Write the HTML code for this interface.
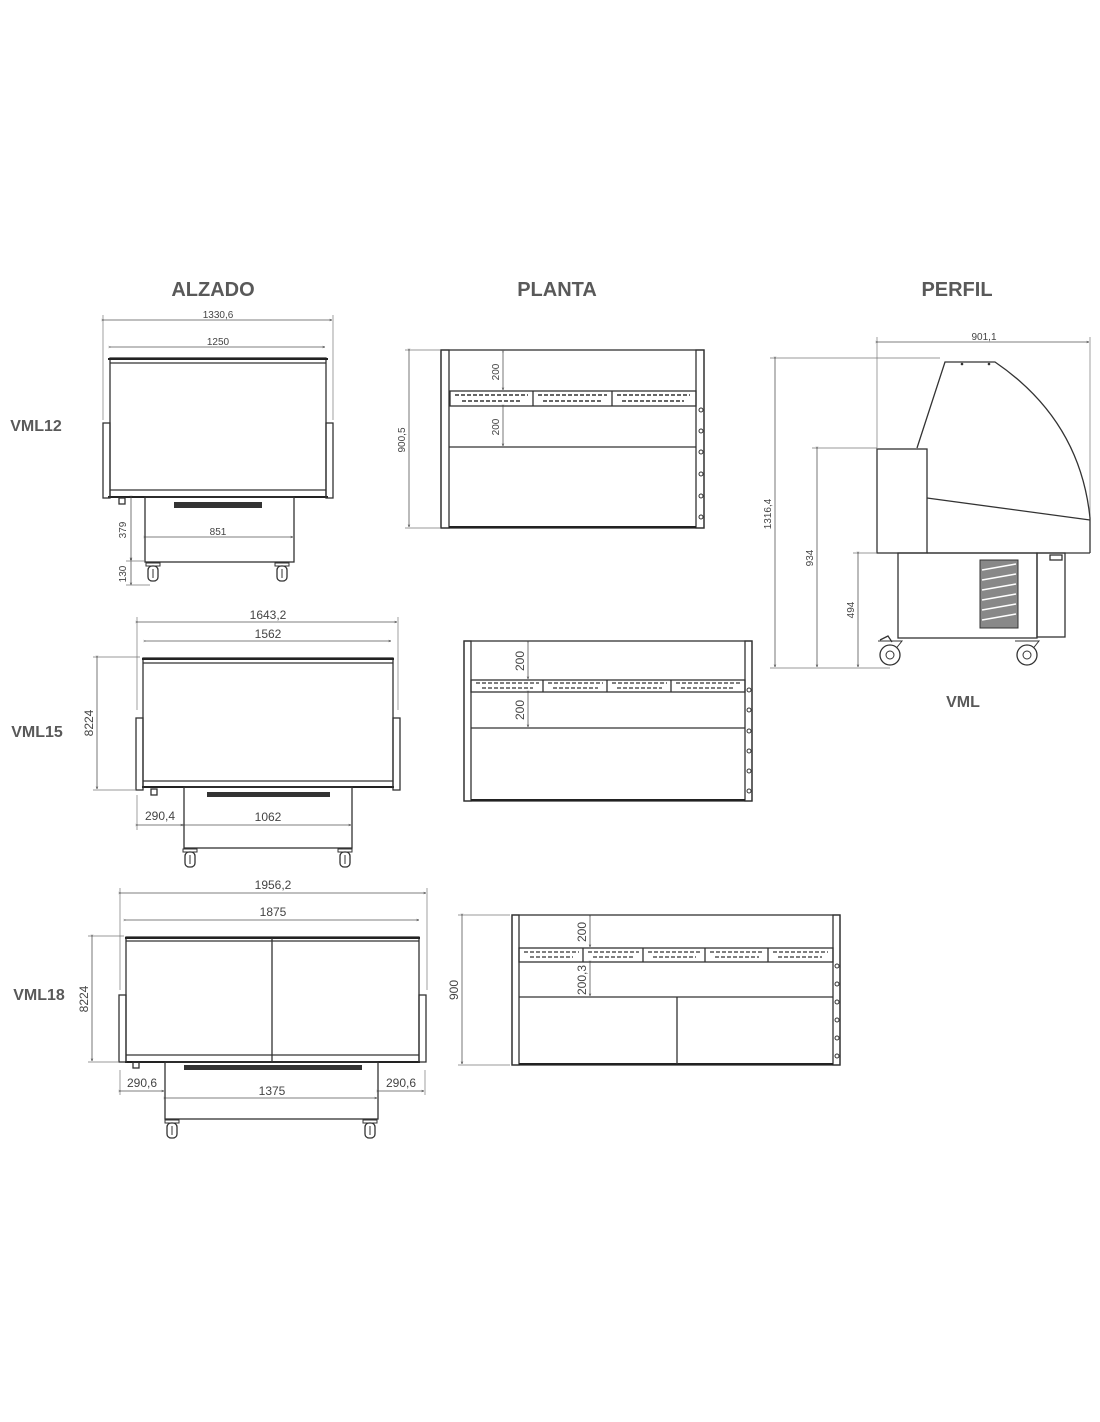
<!DOCTYPE html>
<html><head><meta charset="utf-8"><style>
html,body{margin:0;padding:0;background:#fff;}
svg{display:block;font-family:"Liberation Sans",sans-serif;}
.t{font-size:20px;font-weight:bold;fill:#595959;text-anchor:middle;}
.m{font-size:16px;font-weight:bold;fill:#595959;text-anchor:middle;}
.d{font-size:10px;fill:#444;text-anchor:middle;}
.s{fill:none;stroke:#333;stroke-width:1.3;}
.k{fill:none;stroke:#222;stroke-width:2;}
.dl{fill:none;stroke:#555;stroke-width:0.8;marker-start:url(#a);marker-end:url(#a);}
.el{stroke:#777;stroke-width:0.7;}
.v{fill:#333;}
</style></head><body>
<svg width="1100" height="1422" viewBox="0 0 1100 1422">
<defs>
<marker id="a" viewBox="0 0 10 10" refX="5" refY="5" markerWidth="6" markerHeight="6" orient="auto"><path d="M0,3 L5,5 L0,7" fill="none" stroke="#444"/></marker>
<g id="w"><rect x="-7" y="0" width="14" height="3" fill="#fff" stroke="#333"/><rect x="-5" y="3" width="10" height="15" rx="4" fill="#fff" stroke="#333" stroke-width="1.3"/><line x1="0" y1="6" x2="0" y2="15" stroke="#333"/></g>
<g id="bw"><path d="M-12,-6 L12,-6 L4,4" fill="none" stroke="#333"/><circle cx="0" cy="8" r="10" fill="#fff" stroke="#333" stroke-width="1.3"/><circle cx="0" cy="8" r="4" fill="none" stroke="#333"/></g>
</defs>

<text class="t" x="213" y="296">ALZADO</text>
<text class="t" x="557" y="296">PLANTA</text>
<text class="t" x="957" y="296">PERFIL</text>
<text class="m" x="36" y="431">VML12</text>
<text class="m" x="37" y="737">VML15</text>
<text class="m" x="39" y="1000">VML18</text>
<text class="m" x="963" y="707">VML</text>

<!-- ALZADO VML12 -->
<line class="el" x1="103" y1="315" x2="103" y2="420"/><line class="el" x1="333" y1="315" x2="333" y2="420"/>
<line class="dl" x1="104" y1="320" x2="332" y2="320"/><text class="d" x="218" y="318">1330,6</text>
<line class="dl" x1="111" y1="347" x2="325" y2="347"/><text class="d" x="218" y="345">1250</text>
<rect class="s" x="110" y="358" width="216" height="139"/>
<line class="k" x1="108" y1="359" x2="328" y2="359"/><line class="s" x1="110" y1="363" x2="326" y2="363"/>
<line class="s" x1="110" y1="490" x2="326" y2="490"/><line class="k" x1="108" y1="497" x2="328" y2="497"/>
<rect class="s" x="103" y="423" width="7" height="75"/><rect class="s" x="326" y="423" width="7" height="75"/>
<rect class="s" x="145" y="497" width="149" height="65"/>
<rect class="v" x="174" y="502" width="88" height="6"/>
<rect class="s" x="119" y="498" width="6" height="6"/>
<line class="dl" x1="146" y1="537" x2="293" y2="537"/><text class="d" x="218" y="535">851</text>
<line class="dl" x1="131" y1="498" x2="131" y2="560"/><line class="dl" x1="131" y1="561" x2="131" y2="585"/>
<line class="el" x1="126" y1="561" x2="145" y2="561"/><line class="el" x1="126" y1="585" x2="150" y2="585"/>
<text class="d" x="126" y="530" transform="rotate(-90 126 530)">379</text>
<text class="d" x="126" y="574" transform="rotate(-90 126 574)">130</text>
<use href="#w" x="153" y="563"/><use href="#w" x="282" y="563"/>

<!-- PLANTA VML12 -->
<rect class="s" x="441" y="350" width="263" height="178"/>
<rect class="s" x="441" y="350" width="8" height="178"/><rect class="s" x="696" y="350" width="8" height="178"/>
<line class="k" x1="449" y1="527" x2="696" y2="527"/>
<rect class="s" x="450" y="391" width="246" height="15"/>
<line class="s" x1="533" y1="391" x2="533" y2="406"/><line class="s" x1="612" y1="391" x2="612" y2="406"/>
<g stroke="#333" stroke-width="1.5" stroke-dasharray="4,2"><line x1="455" y1="395" x2="528" y2="395"/><line x1="462" y1="401" x2="522" y2="401"/><line x1="538" y1="395" x2="607" y2="395"/><line x1="543" y1="401" x2="602" y2="401"/><line x1="617" y1="395" x2="690" y2="395"/><line x1="622" y1="401" x2="684" y2="401"/></g>
<line class="s" x1="449" y1="447" x2="696" y2="447"/>
<line class="dl" x1="503" y1="353" x2="503" y2="390"/><line class="dl" x1="503" y1="407" x2="503" y2="446"/>
<text class="d" x="499" y="372" transform="rotate(-90 499 372)">200</text><text class="d" x="499" y="427" transform="rotate(-90 499 427)">200</text>
<line class="el" x1="405" y1="350" x2="440" y2="350"/><line class="el" x1="405" y1="528" x2="440" y2="528"/>
<line class="dl" x1="409" y1="351" x2="409" y2="527"/><text class="d" x="405" y="440" transform="rotate(-90 405 440)">900,5</text>
<g fill="#fff" stroke="#333"><circle cx="701" cy="410" r="2"/><circle cx="701" cy="431" r="2"/><circle cx="701" cy="452" r="2"/><circle cx="701" cy="474" r="2"/><circle cx="701" cy="496" r="2"/><circle cx="701" cy="517" r="2"/></g>

<!-- PERFIL -->
<line class="el" x1="877" y1="337" x2="877" y2="448"/><line class="el" x1="1090" y1="337" x2="1090" y2="520"/>
<line class="dl" x1="878" y1="342" x2="1089" y2="342"/><text class="d" x="984" y="340">901,1</text>
<path class="s" d="M917,448 L945,362 L995,362 Q1080,420 1090,518 L1090,553"/>
<rect class="s" x="877" y="449" width="50" height="104"/>
<line class="s" x1="927" y1="498" x2="1090" y2="520"/>
<line class="s" x1="927" y1="553" x2="1090" y2="553"/>
<circle class="v" cx="962" cy="364" r="1.3"/><circle class="v" cx="989" cy="364" r="1.3"/>
<rect class="s" x="898" y="553" width="139" height="85"/><rect class="s" x="1037" y="553" width="28" height="84"/>
<rect x="980" y="560" width="38" height="68" fill="#888" stroke="#333"/>
<g stroke="#fff" stroke-width="1.5"><path d="M982,570 l34,-6 M982,580 l34,-6 M982,590 l34,-6 M982,600 l34,-6 M982,610 l34,-6 M982,620 l34,-6"/></g>
<rect class="s" x="1050" y="555" width="12" height="5"/>
<use href="#bw" x="890" y="647"/><use href="#bw" x="1027" y="647"/>
<path class="s" d="M880,640 l8,-4 l4,6"/>
<line class="el" x1="770" y1="358" x2="940" y2="358"/><line class="el" x1="770" y1="668" x2="890" y2="668"/>
<line class="el" x1="812" y1="448" x2="877" y2="448"/><line class="el" x1="853" y1="553" x2="877" y2="553"/>
<line class="dl" x1="775" y1="359" x2="775" y2="667"/><line class="dl" x1="817" y1="449" x2="817" y2="667"/><line class="dl" x1="858" y1="554" x2="858" y2="667"/>
<text class="d" x="771" y="514" transform="rotate(-90 771 514)">1316,4</text>
<text class="d" x="813" y="558" transform="rotate(-90 813 558)">934</text>
<text class="d" x="854" y="610" transform="rotate(-90 854 610)">494</text>

<!-- ALZADO VML15 -->
<line class="el" x1="137" y1="617" x2="137" y2="710"/><line class="el" x1="398" y1="617" x2="398" y2="710"/>
<line class="dl" x1="138" y1="622" x2="397" y2="622"/><text class="d" x="268" y="619" style="font-size:12px">1643,2</text>
<line class="dl" x1="146" y1="641" x2="391" y2="641"/><text class="d" x="268" y="638" style="font-size:12px">1562</text>
<rect class="s" x="143" y="658" width="250" height="129"/>
<line class="k" x1="142" y1="659" x2="394" y2="659"/><line class="s" x1="143" y1="663" x2="393" y2="663"/>
<line class="s" x1="143" y1="781" x2="393" y2="781"/><line class="k" x1="142" y1="787" x2="394" y2="787"/>
<rect class="s" x="136" y="718" width="7" height="72"/><rect class="s" x="393" y="718" width="7" height="72"/>
<rect class="s" x="184" y="787" width="168" height="61"/>
<rect class="v" x="207" y="792" width="123" height="5"/>
<rect class="s" x="151" y="789" width="6" height="6"/>
<line class="el" x1="93" y1="657" x2="140" y2="657"/><line class="el" x1="93" y1="790" x2="135" y2="790"/>
<line class="dl" x1="97" y1="658" x2="97" y2="789"/><text class="d" x="93" y="723" transform="rotate(-90 93 723)" style="font-size:12px">8224</text>
<line class="el" x1="137" y1="795" x2="137" y2="830"/>
<line class="dl" x1="138" y1="825" x2="183" y2="825"/><text class="d" x="160" y="820" style="font-size:12px">290,4</text>
<line class="dl" x1="185" y1="825" x2="351" y2="825"/><text class="d" x="268" y="821" style="font-size:12px">1062</text>
<use href="#w" x="190" y="849"/><use href="#w" x="345" y="849"/>

<!-- PLANTA VML15 -->
<rect class="s" x="464" y="641" width="288" height="160"/>
<rect class="s" x="464" y="641" width="7" height="160"/><rect class="s" x="745" y="641" width="7" height="160"/>
<line class="k" x1="471" y1="800" x2="745" y2="800"/>
<rect class="s" x="471" y="680" width="274" height="12"/>
<line class="s" x1="543" y1="680" x2="543" y2="692"/><line class="s" x1="607" y1="680" x2="607" y2="692"/><line class="s" x1="671" y1="680" x2="671" y2="692"/>
<g stroke="#333" stroke-width="1.3" stroke-dasharray="4,2"><line x1="476" y1="683" x2="539" y2="683"/><line x1="482" y1="688" x2="533" y2="688"/><line x1="548" y1="683" x2="603" y2="683"/><line x1="553" y1="688" x2="598" y2="688"/><line x1="612" y1="683" x2="667" y2="683"/><line x1="617" y1="688" x2="662" y2="688"/><line x1="676" y1="683" x2="740" y2="683"/><line x1="681" y1="688" x2="734" y2="688"/></g>
<line class="s" x1="471" y1="728" x2="745" y2="728"/>
<line class="dl" x1="528" y1="643" x2="528" y2="679"/><line class="dl" x1="528" y1="693" x2="528" y2="727"/>
<text class="d" x="524" y="661" transform="rotate(-90 524 661)" style="font-size:12px">200</text><text class="d" x="524" y="710" transform="rotate(-90 524 710)" style="font-size:12px">200</text>
<g fill="#fff" stroke="#333"><circle cx="749" cy="690" r="2"/><circle cx="749" cy="710" r="2"/><circle cx="749" cy="731" r="2"/><circle cx="749" cy="751" r="2"/><circle cx="749" cy="771" r="2"/><circle cx="749" cy="791" r="2"/></g>

<!-- ALZADO VML18 -->
<line class="el" x1="120" y1="888" x2="120" y2="990"/><line class="el" x1="427" y1="888" x2="427" y2="990"/>
<line class="dl" x1="121" y1="893" x2="426" y2="893"/><text class="d" x="273" y="889" style="font-size:12px">1956,2</text>
<line class="dl" x1="126" y1="920" x2="419" y2="920"/><text class="d" x="273" y="916" style="font-size:12px">1875</text>
<rect class="s" x="126" y="937" width="293" height="125"/>
<line class="k" x1="125" y1="938" x2="420" y2="938"/><line class="s" x1="126" y1="941" x2="419" y2="941"/>
<line class="s" x1="126" y1="1055" x2="419" y2="1055"/><line class="k" x1="125" y1="1062" x2="420" y2="1062"/>
<line class="s" x1="272" y1="938" x2="272" y2="1062"/>
<rect class="s" x="119" y="995" width="7" height="67"/><rect class="s" x="419" y="995" width="7" height="67"/>
<rect class="s" x="165" y="1062" width="213" height="57"/>
<rect class="v" x="184" y="1065" width="178" height="5"/>
<rect class="s" x="133" y="1062" width="6" height="6"/>
<line class="el" x1="88" y1="936" x2="124" y2="936"/><line class="el" x1="88" y1="1062" x2="118" y2="1062"/>
<line class="dl" x1="92" y1="937" x2="92" y2="1061"/><text class="d" x="88" y="999" transform="rotate(-90 88 999)" style="font-size:12px">8224</text>
<line class="el" x1="120" y1="1070" x2="120" y2="1095"/><line class="el" x1="425" y1="1070" x2="425" y2="1095"/>
<line class="dl" x1="121" y1="1091" x2="164" y2="1091"/><text class="d" x="142" y="1087" style="font-size:12px">290,6</text>
<line class="dl" x1="166" y1="1098" x2="377" y2="1098"/><text class="d" x="272" y="1095" style="font-size:12px">1375</text>
<line class="dl" x1="379" y1="1091" x2="424" y2="1091"/><text class="d" x="401" y="1087" style="font-size:12px">290,6</text>
<use href="#w" x="172" y="1120"/><use href="#w" x="370" y="1120"/>

<!-- PLANTA VML18 -->
<rect class="s" x="512" y="915" width="328" height="150"/>
<rect class="s" x="512" y="915" width="7" height="150"/><rect class="s" x="833" y="915" width="7" height="150"/>
<line class="k" x1="519" y1="1064" x2="833" y2="1064"/>
<rect class="s" x="519" y="948" width="314" height="14"/>
<line class="s" x1="583" y1="948" x2="583" y2="962"/><line class="s" x1="643" y1="948" x2="643" y2="962"/><line class="s" x1="705" y1="948" x2="705" y2="962"/><line class="s" x1="768" y1="948" x2="768" y2="962"/>
<g stroke="#333" stroke-width="1.3" stroke-dasharray="4,2"><line x1="524" y1="952" x2="579" y2="952"/><line x1="530" y1="957" x2="573" y2="957"/><line x1="588" y1="952" x2="639" y2="952"/><line x1="593" y1="957" x2="634" y2="957"/><line x1="648" y1="952" x2="701" y2="952"/><line x1="653" y1="957" x2="696" y2="957"/><line x1="710" y1="952" x2="764" y2="952"/><line x1="715" y1="957" x2="759" y2="957"/><line x1="773" y1="952" x2="828" y2="952"/><line x1="778" y1="957" x2="822" y2="957"/></g>
<line class="s" x1="519" y1="997" x2="833" y2="997"/>
<line class="s" x1="677" y1="997" x2="677" y2="1064"/>
<line class="dl" x1="590" y1="917" x2="590" y2="947"/><line class="dl" x1="590" y1="963" x2="590" y2="996"/>
<text class="d" x="586" y="932" transform="rotate(-90 586 932)" style="font-size:12px">200</text><text class="d" x="586" y="980" transform="rotate(-90 586 980)" style="font-size:12px">200,3</text>
<line class="el" x1="458" y1="915" x2="510" y2="915"/><line class="el" x1="458" y1="1065" x2="510" y2="1065"/>
<line class="dl" x1="462" y1="916" x2="462" y2="1064"/><text class="d" x="458" y="990" transform="rotate(-90 458 990)" style="font-size:12px">900</text>
<g fill="#fff" stroke="#333"><circle cx="837" cy="966" r="2"/><circle cx="837" cy="984" r="2"/><circle cx="837" cy="1002" r="2"/><circle cx="837" cy="1020" r="2"/><circle cx="837" cy="1038" r="2"/><circle cx="837" cy="1056" r="2"/></g>
</svg>
</body></html>
